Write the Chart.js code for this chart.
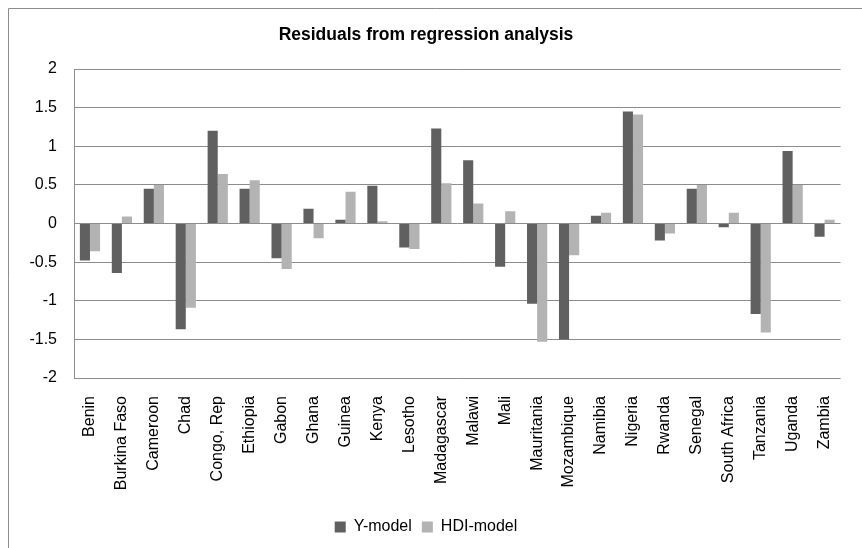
<!DOCTYPE html>
<html>
  <head>
    <meta charset="UTF-8">
    <title>Residuals</title>
    <script src="https://cdn.jsdelivr.net/npm/chart.js"></script>
    <style>
      body { margin: 0; background: #fff; }
      #wrap { width: 862px; height: 548px; }
    </style>
  </head>
  <body>
    <div id="wrap">
      <canvas id="residChart" width="862" height="548"></canvas>
    </div>
    <script>
      // Countries on the category axis
      const countries = ['Benin', 'Burkina Faso', 'Cameroon', 'Chad', 'Congo, Rep', 'Ethiopia', 'Gabon', 'Ghana',
        'Guinea', 'Kenya', 'Lesotho', 'Madagascar', 'Malawi', 'Mali', 'Mauritania', 'Mozambique', 'Namibia',
        'Nigeria', 'Rwanda', 'Senegal', 'South Africa', 'Tanzania', 'Uganda', 'Zambia'];

      // Residuals
      const yModel = [-0.48, -0.64, 0.45, -1.37, 1.20, 0.45, -0.45, 0.19, 0.05, 0.49, -0.31, 1.23, 0.82, -0.56,
        -1.04, -1.50, 0.10, 1.45, -0.22, 0.45, -0.05, -1.17, 0.94, -0.17];
      const hdiModel = [-0.36, 0.09, 0.50, -1.09, 0.64, 0.56, -0.59, -0.19, 0.41, 0.03, -0.33, 0.52, 0.26, 0.16,
        -1.53, -0.41, 0.14, 1.41, -0.13, 0.50, 0.14, -1.41, 0.50, 0.05];

      const yMin = -2;
      const yMax = 2;
      const yStep = 0.5;

      const gridGrey = '#8c8c8c';
      const fontFam = 'Liberation Sans';

      // white background plus the chart's outer frame (top and left edges visible)
      const framePlugin = {
        id: 'frame',
        beforeDraw(chart) {
          const c = chart.ctx;
          c.save();
          c.fillStyle = '#fff';
          c.fillRect(0, 0, chart.width, chart.height);
          c.strokeStyle = gridGrey;
          c.lineWidth = 1;
          c.beginPath();
          c.moveTo(8.5, chart.height);
          c.lineTo(8.5, 8.5);
          c.lineTo(chart.width, 8.5);
          c.stroke();
          c.restore();
        }
      };

      new Chart(document.getElementById('residChart'), {
        type: 'bar',
        data: {
          labels: countries,
          datasets: [
            {
              label: 'Y-model',
              data: yModel,
              backgroundColor: '#606060',
              categoryPercentage: 0.633,
              barPercentage: 1
            },
            {
              label: 'HDI-model',
              data: hdiModel,
              backgroundColor: '#b3b3b3',
              categoryPercentage: 0.633,
              barPercentage: 1
            }
          ]
        },
        options: {
          responsive: false,
          animation: false,
          layout: { padding: { left: 0, right: 10, top: 0, bottom: 3 } },
          plugins: {
            title: {
              display: true,
              text: 'Residuals from regression analysis',
              color: '#000',
              font: { family: fontFam, size: 17.5, weight: 'bold', lineHeight: 1.2 },
              padding: { top: 25, bottom: 23 }
            },
            legend: {
              position: 'bottom',
              labels: {
                color: '#000',
                boxWidth: 11,
                boxHeight: 11,
                padding: 10,
                font: { family: fontFam, size: 16 }
              }
            },
            tooltip: { enabled: false }
          },
          scales: {
            x: {
              grid: { display: false, drawTicks: false },
              border: { display: false },
              ticks: {
                color: '#000',
                maxRotation: 90,
                minRotation: 90,
                autoSkip: false,
                padding: 18,
                font: { family: fontFam, size: 16 }
              },
              afterFit(axis) { axis.height = 131; }
            },
            y: {
              min: yMin,
              max: yMax,
              ticks: {
                stepSize: yStep,
                color: '#000',
                padding: 17,
                font: { family: fontFam, size: 16 },
                callback: v => v.toString()
              },
              grid: { color: gridGrey, lineWidth: 1, drawTicks: false },
              border: { display: true, color: gridGrey, width: 1 },
              afterFit(axis) { axis.width = 74; }
            }
          }
        },
        plugins: [framePlugin]
      });
    </script>
  </body>
</html>
